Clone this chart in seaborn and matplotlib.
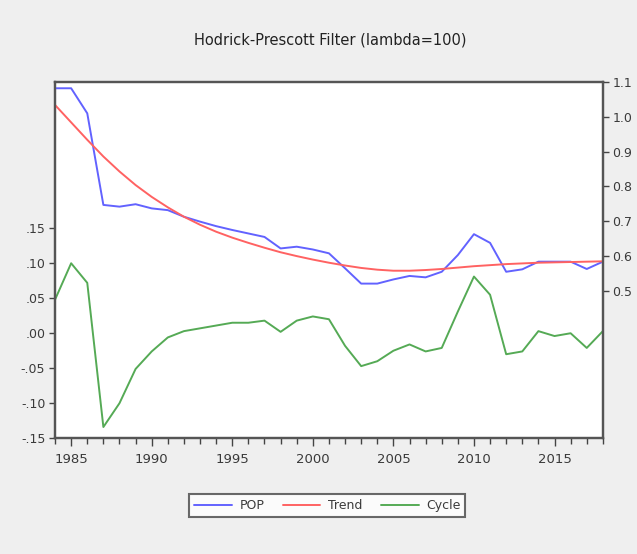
import numpy as np
import pandas as pd
import seaborn as sns
import matplotlib.pyplot as plt
from matplotlib.ticker import MultipleLocator, FixedLocator

years = list(range(1984, 2019))

pop = [1.082, 1.082, 1.010, 0.747, 0.742, 0.749, 0.737, 0.732, 0.713, 0.699,
       0.686, 0.675, 0.665, 0.655, 0.622, 0.627, 0.619, 0.608, 0.565, 0.521,
       0.521, 0.533, 0.543, 0.539, 0.555, 0.603, 0.663, 0.638, 0.555, 0.562,
       0.584, 0.584, 0.584, 0.563, 0.584]

trend = [1.034, 0.984, 0.934, 0.886, 0.843, 0.804, 0.770, 0.740, 0.713, 0.690,
         0.670, 0.653, 0.638, 0.624, 0.611, 0.600, 0.590, 0.581, 0.573, 0.566,
         0.561, 0.558, 0.558, 0.560, 0.563, 0.567, 0.571, 0.574, 0.577, 0.579,
         0.581, 0.582, 0.583, 0.584, 0.585]

cycle = [0.048, 0.100, 0.072, -0.134, -0.100, -0.051, -0.026, -0.006, 0.003, 0.007,
         0.011, 0.015, 0.015, 0.018, 0.002, 0.018, 0.024, 0.020, -0.018, -0.047,
         -0.040, -0.025, -0.016, -0.026, -0.021, 0.031, 0.081, 0.055, -0.030, -0.026,
         0.003, -0.004, 0.000, -0.021, 0.003]

left_ticks = [-0.15, -0.10, -0.05, 0.00, 0.05, 0.10, 0.15]
right_ticks = [0.5, 0.6, 0.7, 0.8, 0.9, 1.0, 1.1]

df = pd.DataFrame({'Year': years, 'POP': pop, 'Trend': trend, 'Cycle': cycle})

sns.set_style("white")
plt.rcParams['font.family'] = ['DejaVu Sans']

fig = plt.figure(figsize=(6.37, 5.54), dpi=100)
fig.patch.set_facecolor('#efefef')
ax = fig.add_axes([0.0864, 0.209, 0.86, 0.643])
ax2 = ax.twinx()

col_pop = '#6262ff'
col_trend = '#ff6262'
col_cycle = '#55aa55'

# ciclo en el eje izquierdo, serie y tendencia en el derecho
sns.lineplot(data=df, x='Year', y='Cycle', ax=ax, color=col_cycle, lw=1.4, label='Cycle', legend=False)
sns.lineplot(data=df, x='Year', y='POP', ax=ax2, color=col_pop, lw=1.4, label='POP', legend=False)
sns.lineplot(data=df, x='Year', y='Trend', ax=ax2, color=col_trend, lw=1.4, label='Trend', legend=False)

ax.set_xlim(1984, 2018)
ax.set_ylim(-0.15, 0.359)
ax2.set_ylim(0.077, 1.1)

ax.xaxis.set_major_locator(FixedLocator([1985, 1990, 1995, 2000, 2005, 2010, 2015]))
ax.xaxis.set_minor_locator(MultipleLocator(1))
ax.yaxis.set_major_locator(FixedLocator(left_ticks))
ax.set_yticklabels([f"{v:.2f}".replace("0.", ".") for v in left_ticks])
ax2.yaxis.set_major_locator(FixedLocator(right_ticks))
ax2.set_yticklabels([f"{v:.1f}" for v in right_ticks])

tc = '#3a3a3a'
ax.tick_params(axis='x', which='major', direction='out', length=6, width=1, colors='#444444',
               labelcolor=tc, labelsize=9.5, pad=5, bottom=True)
ax.tick_params(axis='x', which='minor', direction='out', length=4, width=1, colors='#444444', bottom=True)
ax.tick_params(axis='y', direction='out', length=4, width=1, colors='#444444', labelcolor=tc,
               labelsize=9, pad=3, left=True)
ax2.tick_params(axis='y', direction='out', length=4, width=1, colors='#444444', labelcolor=tc,
                labelsize=9, pad=3, right=True)

ax.set_xlabel('')
ax.set_ylabel('')
ax2.set_ylabel('')
for a in (ax, ax2):
    for s in a.spines.values():
        s.set_color('#555555')
        s.set_linewidth(1.6)

fig.text(0.518, 0.928, 'Hodrick-Prescott Filter (lambda=100)', ha='center', va='center',
         fontsize=10.5, color='#222222')

h1, l1 = ax2.get_legend_handles_labels()
h2, l2 = ax.get_legend_handles_labels()
leg = fig.legend(h1 + h2, l1 + l2, loc='center', bbox_to_anchor=(0.514, 0.087), ncol=3,
                 frameon=True, fancybox=False, fontsize=9, handlelength=3, columnspacing=1.5,
                 borderpad=0.4, handletextpad=0.6)
leg.get_frame().set_edgecolor('#444444')
leg.get_frame().set_linewidth(1.5)
for t in leg.get_texts():
    t.set_color(tc)

fig.savefig('out.png', dpi=100, facecolor=fig.get_facecolor())
